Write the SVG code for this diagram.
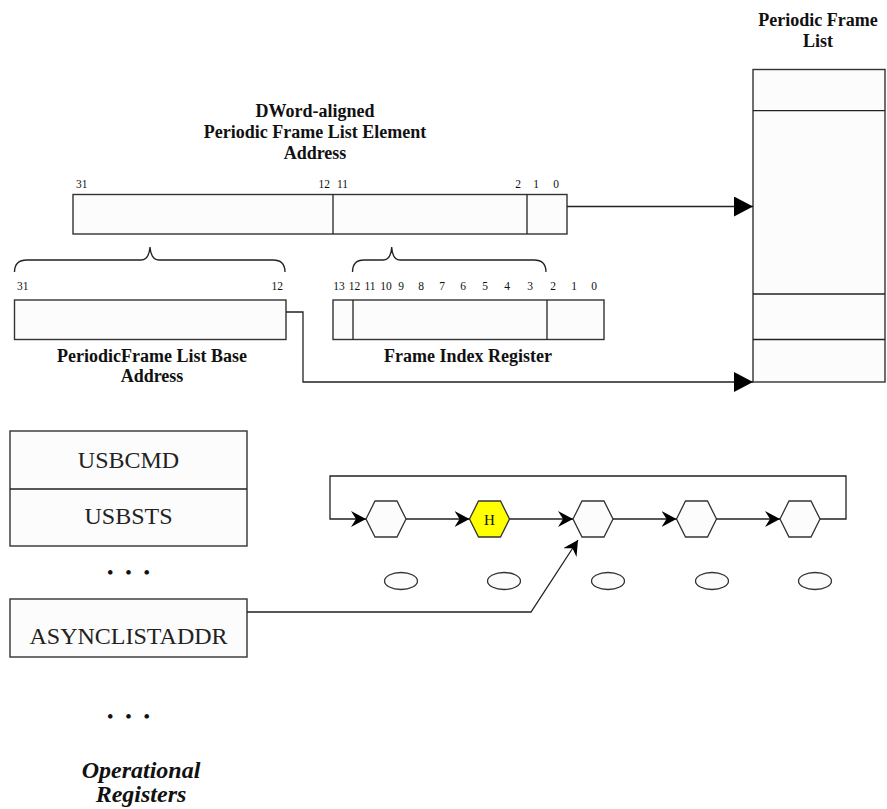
<svg xmlns="http://www.w3.org/2000/svg" width="887" height="809" viewBox="0 0 887 809">
<style>
.box{fill:#fcfcfc;stroke:#333;stroke-width:1.4}
.ln{fill:none;stroke:#222;stroke-width:1.3}
.t{font-family:"Liberation Serif","Times New Roman",serif;fill:#111}
.b{font-weight:bold;font-size:18px;text-anchor:middle}
.bit{font-size:11.5px}
.reg{font-size:24px;text-anchor:middle;fill:#222}
.hex{fill:#fcfcfc;stroke:#333;stroke-width:1.3}
.ell{fill:#fcfcfc;stroke:#333;stroke-width:1.3}
</style>
<defs>
<marker id="big" markerUnits="userSpaceOnUse" markerWidth="20" markerHeight="22" refX="19" refY="10" orient="auto">
<path d="M0,0 L19,10 L0,20 z" fill="#000"/>
</marker>
<marker id="sm" markerUnits="userSpaceOnUse" markerWidth="18" markerHeight="18" refX="15" refY="8" orient="auto">
<path d="M0,0 L15,8 L0,16 L5,8 z" fill="#000"/>
</marker>
</defs>
<rect width="887" height="809" fill="#fff"/>

<g id="periodic-frame-list">
<text class="t b" x="818" y="26" font-size="17.5">Periodic Frame</text>
<text class="t b" x="818" y="47" font-size="17.5">List</text>
<rect class="box" x="753" y="69.5" width="132" height="312.5"/>
<line class="ln" x1="753" y1="110.7" x2="885" y2="110.7"/>
<line class="ln" x1="753" y1="294" x2="885" y2="294"/>
<line class="ln" x1="753" y1="339.5" x2="885" y2="339.5"/>
</g>

<g id="element-address">
<text class="t b" x="315" y="117">DWord-aligned</text>
<text class="t b" x="315" y="138">Periodic Frame List Element</text>
<text class="t b" x="315" y="159">Address</text>
<text class="t bit" x="76" y="188">31</text>
<text class="t bit" x="330" y="188" text-anchor="end">12</text>
<text class="t bit" x="337" y="188">11</text>
<text class="t bit" x="518" y="188" text-anchor="middle">2</text>
<text class="t bit" x="536" y="188" text-anchor="middle">1</text>
<text class="t bit" x="556" y="188" text-anchor="middle">0</text>
<rect class="box" x="73" y="194.5" width="494" height="39.5"/>
<line class="ln" x1="333" y1="194.5" x2="333" y2="234"/>
<line class="ln" x1="527" y1="194.5" x2="527" y2="234"/>
</g>

<g id="braces">
<path class="ln" d="M14.5,272 Q14.5,260 27,260 L141,260 Q149,260 150,247 Q151,260 159,260 L273,260 Q285,260 285,272"/>
<path class="ln" d="M352.5,272 Q352.5,260 364,260 L383,260 Q391,260 391.7,247 Q392.4,260 400,260 L534,260 Q546,260 546,272"/>
</g>

<g id="base-address">
<text class="t bit" x="17" y="290">31</text>
<text class="t bit" x="283" y="290" text-anchor="end">12</text>
<rect class="box" x="14.5" y="300" width="271.5" height="39.5"/>
<text class="t b" x="152" y="362">PeriodicFrame List Base</text>
<text class="t b" x="152" y="382">Address</text>
</g>

<g id="frame-index-register">
<g class="t bit" text-anchor="middle">
<text x="339" y="290">13</text>
<text x="354.5" y="290">12</text>
<text x="370" y="290">11</text>
<text x="386" y="290">10</text>
<text x="401" y="290">9</text>
<text x="421" y="290">8</text>
<text x="442" y="290">7</text>
<text x="463" y="290">6</text>
<text x="485" y="290">5</text>
<text x="507" y="290">4</text>
<text x="530" y="290">3</text>
<text x="553" y="290">2</text>
<text x="574" y="290">1</text>
<text x="594" y="290">0</text>
</g>
<rect class="box" x="333" y="300" width="271" height="39.5"/>
<line class="ln" x1="353" y1="300" x2="353" y2="339.5"/>
<line class="ln" x1="547" y1="300" x2="547" y2="339.5"/>
<text class="t b" x="468" y="362">Frame Index Register</text>
</g>

<g id="operational-registers">
<rect class="box" x="10" y="431" width="237" height="115"/>
<line class="ln" x1="10" y1="489" x2="247" y2="489"/>
<text class="t reg" x="128.5" y="468">USBCMD</text>
<text class="t reg" x="128.5" y="524">USBSTS</text>
<text class="t" x="128.5" y="578" font-size="17" font-weight="bold" text-anchor="middle" word-spacing="8">• • •</text>
<rect class="box" x="10" y="599" width="237" height="58"/>
<text class="t reg" x="128.5" y="644" font-size="24.5">ASYNCLISTADDR</text>
<text class="t" x="128.5" y="722" font-size="17" font-weight="bold" text-anchor="middle" word-spacing="8">• • •</text>
<text class="t" x="141" y="778" font-size="24" font-weight="bold" font-style="italic" text-anchor="middle">Operational</text>
<text class="t" x="141" y="802" font-size="24" font-weight="bold" font-style="italic" text-anchor="middle">Registers</text>
</g>

<g id="async-queue">
<g id="qh1"><polygon class="hex" points="366,519 375,501 397,501 406,519 397,537 375,537"/></g>
<g id="qh2"><polygon points="469.5,519 478.5,501 500.5,501 509.5,519 500.5,537 478.5,537" fill="#ffff00" stroke="#333" stroke-width="1.3"/>
<text class="t" x="489.5" y="524.5" font-size="15" text-anchor="middle" fill="#6b6b00">H</text></g>
<g id="qh3"><polygon class="hex" points="573,519 582,501 604,501 613,519 604,537 582,537"/></g>
<g id="qh4"><polygon class="hex" points="676.5,519 685.5,501 707.5,501 716.5,519 707.5,537 685.5,537"/></g>
<g id="qh5"><polygon class="hex" points="780,519 789,501 811,501 820,519 811,537 789,537"/></g>
<ellipse class="ell" cx="401" cy="581" rx="16.5" ry="8.5"/>
<ellipse class="ell" cx="504" cy="581" rx="16.5" ry="8.5"/>
<ellipse class="ell" cx="608" cy="581" rx="16.5" ry="8.5"/>
<ellipse class="ell" cx="712" cy="581" rx="16.5" ry="8.5"/>
<ellipse class="ell" cx="815" cy="581" rx="16.5" ry="8.5"/>
</g>

<g id="connectors">
<line class="ln" x1="567" y1="206.5" x2="753" y2="206.5" marker-end="url(#big)"/>
<polyline class="ln" points="286,312 303,312 303,382 753,382" marker-end="url(#big)"/>
<polyline class="ln" points="820,519 846,519 846,476 330,476 330,519 366,519" marker-end="url(#sm)"/>
<line class="ln" x1="406" y1="519" x2="469.5" y2="519" marker-end="url(#sm)"/>
<line class="ln" x1="509.5" y1="519" x2="573" y2="519" marker-end="url(#sm)"/>
<line class="ln" x1="613" y1="519" x2="676.5" y2="519" marker-end="url(#sm)"/>
<line class="ln" x1="716.5" y1="519" x2="780" y2="519" marker-end="url(#sm)"/>
<polyline class="ln" points="247,612 531,612 578,540" marker-end="url(#sm)"/>
</g>
</svg>
